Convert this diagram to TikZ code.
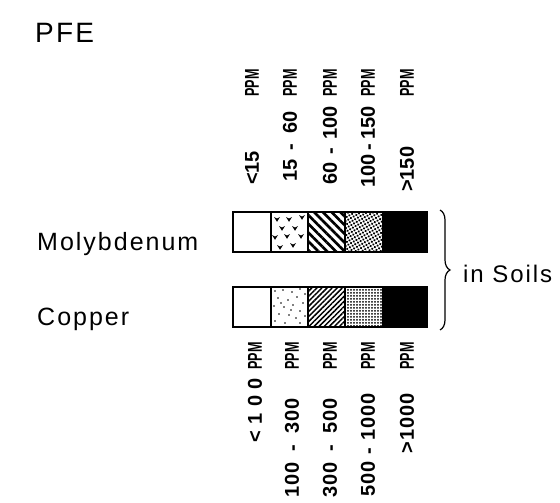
\documentclass[tikz,border=0pt]{standalone}
\usepackage{fontspec}
\setmainfont{Liberation Sans}
\newfontfamily\lblfont[LetterSpace=8]{Liberation Sans}
\newfontfamily\numfont{Liberation Sans}
\newfontfamily\numwide[LetterSpace=5]{Liberation Sans}
\usetikzlibrary{patterns.meta,decorations.pathreplacing}
\newcommand\sdash[1]{\hspace{#1}-\hspace{#1}}
\newcommand\ppm{\scalebox{0.63}[1]{PPM}}
\begin{document}
\begin{tikzpicture}[x=1pt,y=-1pt,
  bigtext/.style={inner sep=0pt,anchor=base west,font=\lblfont\fontsize{25}{25}\selectfont},
  rot/.style={inner sep=0pt,rotate=90,font=\numfont\bfseries\fontsize{20}{20}\selectfont},
  rotwide/.style={inner sep=0pt,rotate=90,font=\numwide\bfseries\fontsize{20}{20}\selectfont},
  barline/.style={line width=2.4pt},
  heart/.pic={\fill (-3,-2) -- (0,2.8) -- (3,-2) -- (0,-0.4) -- cycle;}
]
\useasboundingbox (0,0) rectangle (560,503);

% titles
\node[bigtext,font=\lblfont\fontsize{28}{28}\selectfont] (pfe) at (35,43) {PFE};
\node[bigtext] (mo) at (37,250) {Molybdenum};
\node[bigtext] (cu) at (37,325) {Copper};
\node[bigtext,font=\lblfont\fontsize{24}{24}\selectfont] (soils) at (463,282) {in Soils};

% Molybdenum bar
\fill[pattern={Lines[angle=-45,distance=6.2pt,line width=2.6pt]}] (308,212) rectangle (345,252);
\fill[pattern={Dots[distance=3.1pt,radius=1.25pt,angle=30]}] (345,212) rectangle (383,252);
\fill (383,212) rectangle (427,252);
\foreach \p in {(277,219),(289,219),(302,217),(282,228),(295,228),(275,237),(287,236),(301,236),(280,247),(293,245)}
  \pic at \p {heart};
\draw[barline] (233,212) rectangle (427,252);
\foreach \xx in {271,308,345,383} \draw[line width=1.8pt] (\xx,212) -- (\xx,252);

% Copper bar
\foreach \p in {(275,291),(283,290),(292,292),(300,289),(305,294),(278,298),(288,300),(297,297),(303,303),(274,306),(284,307),(293,305),(300,311),(279,314),(289,315),(296,318),(305,316),(275,321),(285,323),(300,323),(291,310),(281,303)}
  \fill \p circle (0.8);
\fill[pattern={Lines[angle=45,distance=3.6pt,line width=1.5pt]}] (308,287) rectangle (345,327);
\fill[pattern={Dots[distance=3pt,radius=1pt]}] (345,287) rectangle (383,327);
\fill (383,287) rectangle (427,327);
\draw[barline] (233,287) rectangle (427,327);
\foreach \xx in {271,308,345,383} \draw[line width=1.8pt] (\xx,287) -- (\xx,327);

% brace
\draw[line width=1.2pt,decorate,decoration={brace,amplitude=10pt}] (440,210) -- (440,330);

% top labels
\node[rot,anchor=west] (t1) at (252,185) {<15};
\node[rot,anchor=west] (t2) at (290,182) {15\sdash{9.5pt}60};
\node[rot,anchor=west] (t3) at (330,185) {60\sdash{8pt}100};
\node[rot,anchor=west] (t4) at (368,188) {100\sdash{4pt}150};
\node[rot,anchor=west] (t5) at (407,192) {>150};
\foreach \xx/\nm in {252/p1,290/p2,330/p3,368/p4,407/p5}
  \node[rot,anchor=east] (\nm) at (\xx,69) {\ppm};

% bottom labels
\node[rotwide,anchor=east,font=\numwide\bfseries\fontsize{20}{20}\selectfont\addfontfeature{LetterSpace=32}] (b1) at (255,378) {<100};
\node[rotwide,anchor=east] (b2) at (292,398) {100\sdash{11pt}300};
\node[rotwide,anchor=east] (b3) at (330,398) {300\sdash{11pt}500};
\node[rotwide,anchor=east] (b4) at (368,393) {500\sdash{7pt}1000};
\node[rotwide,anchor=east] (b5) at (407,393) {>1000};
\foreach \xx/\nm in {255/q1,292/q2,330/q3,368/q4,407/q5}
  \node[rot,anchor=east] (\nm) at (\xx,342) {\ppm};
\end{tikzpicture}
\end{document}
